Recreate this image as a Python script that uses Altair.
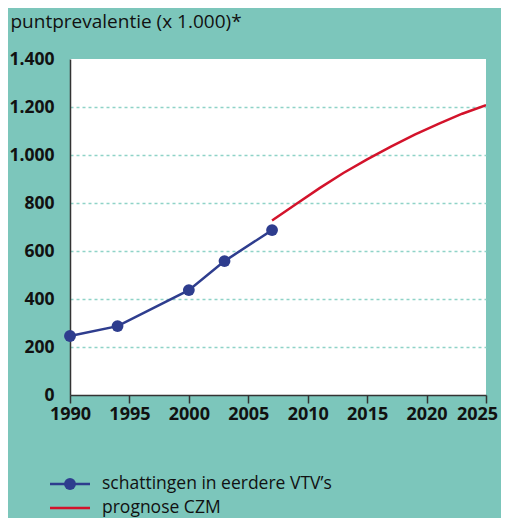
import altair as alt
import pandas as pd

# Data
blue_years = [1990, 1994, 2000, 2003, 2007]
blue_values = [246, 287, 437, 558, 687]
red_years = [2007, 2009, 2011, 2013, 2015, 2017, 2019, 2021, 2023, 2025]
red_values = [727, 795, 862, 925, 982, 1035, 1085, 1130, 1172, 1208]
y_ticks = [0, 200, 400, 600, 800, 1000, 1200, 1400]
x_ticks = [1990, 1995, 2000, 2005, 2010, 2015, 2020, 2025]
legend_labels = ["schattingen in eerdere VTV\u2019s", "prognose CZM"]
title_text = "puntprevalentie (x 1.000)*"

BLUE = "#2E3D8E"
RED = "#D3132B"
BG = "#7CC6BB"
FONT = "Open Sans"

blue_df = pd.DataFrame({"year": blue_years, "value": blue_values})
red_df = pd.DataFrame({"year": red_years, "value": red_values})

xscale = alt.Scale(domain=[1990, 2025], nice=False, zero=False)
yscale = alt.Scale(domain=[0, 1400], nice=False)

xaxis = alt.Axis(
    values=x_ticks, format="d", title=None, grid=False,
    domainColor="#333333", domainWidth=1.5,
    tickColor="#333333", tickSize=8, tickWidth=1.5,
    labelFont=FONT, labelFontWeight="bold", labelFontSize=18, labelColor="#111111",
    labelPadding=2, labelFlush=False, labelOverlap=False,
    labelOffset={"condition": {"test": "datum.value == 2025", "value": -9}, "value": 0},
)
yaxis = alt.Axis(
    values=y_ticks, title=title_text, titleLimit=400,
    labelExpr="replace(format(datum.value, ','), ',', '.')",
    domainColor="#333333", domainWidth=1.5, ticks=False,
    labelFont=FONT, labelFontWeight="bold", labelFontSize=17.5, labelColor="#111111",
    labelPadding=16,
    grid=True, gridColor="#8FD3C8", gridDash=[3, 3], gridWidth=1.5,
    gridOpacity={"condition": {"test": "datum.value == 0 || datum.value == 1400", "value": 0}, "value": 1},
    titleFont=FONT, titleFontWeight="normal", titleFontSize=19, titleColor="#111111",
    titleAngle=0, titleAlign="left", titleBaseline="middle",
    titleX=-60, titleY=-38,
)

blue_line = alt.Chart(blue_df).mark_line(color=BLUE, strokeWidth=2.5).encode(
    x=alt.X("year:Q", scale=xscale, axis=xaxis),
    y=alt.Y("value:Q", scale=yscale, axis=yaxis),
)
blue_pts = alt.Chart(blue_df).mark_circle(color=BLUE, size=140, opacity=1).encode(
    x=alt.X("year:Q", scale=xscale),
    y=alt.Y("value:Q", scale=yscale),
)
red_line = alt.Chart(red_df).mark_line(color=RED, strokeWidth=2.5, clip=True).encode(
    x=alt.X("year:Q", scale=xscale),
    y=alt.Y("value:Q", scale=yscale),
)

# Manual legend (decoration)
LEG_Y1 = 425
LEG_Y2 = 449
leg_df = pd.DataFrame({"label": legend_labels})
leg_blue_rule = alt.Chart(leg_df.iloc[[0]]).mark_rule(color=BLUE, strokeWidth=2.5).encode(
    x=alt.value(-20), x2=alt.value(20), y=alt.value(LEG_Y1)
)
leg_blue_dot = alt.Chart(leg_df.iloc[[0]]).mark_circle(color=BLUE, size=140, opacity=1).encode(
    x=alt.value(0), y=alt.value(LEG_Y1)
)
leg_red_rule = alt.Chart(leg_df.iloc[[1]]).mark_rule(color=RED, strokeWidth=2.5).encode(
    x=alt.value(-20), x2=alt.value(20), y=alt.value(LEG_Y2)
)
leg_text1 = alt.Chart(leg_df.iloc[[0]]).mark_text(
    align="left", baseline="middle", font=FONT, fontSize=17.5, color="#111111"
).encode(x=alt.value(32), y=alt.value(LEG_Y1), text="label:N")
leg_text2 = alt.Chart(leg_df.iloc[[1]]).mark_text(
    align="left", baseline="middle", font=FONT, fontSize=17.5, color="#111111"
).encode(x=alt.value(32), y=alt.value(LEG_Y2), text="label:N")

chart = alt.layer(
    blue_line, red_line, blue_pts,
    leg_blue_rule, leg_blue_dot, leg_red_rule, leg_text1, leg_text2,
).properties(
    width=416, height=336,
    background=BG,
    padding={"left": 62, "top": 51, "right": 15, "bottom": 123},
    autosize=alt.AutoSizeParams(type="none"),
).configure_view(
    fill="white", stroke=None
)

chart.save("out.html", embed_options={"renderer": "svg", "actions": False})
